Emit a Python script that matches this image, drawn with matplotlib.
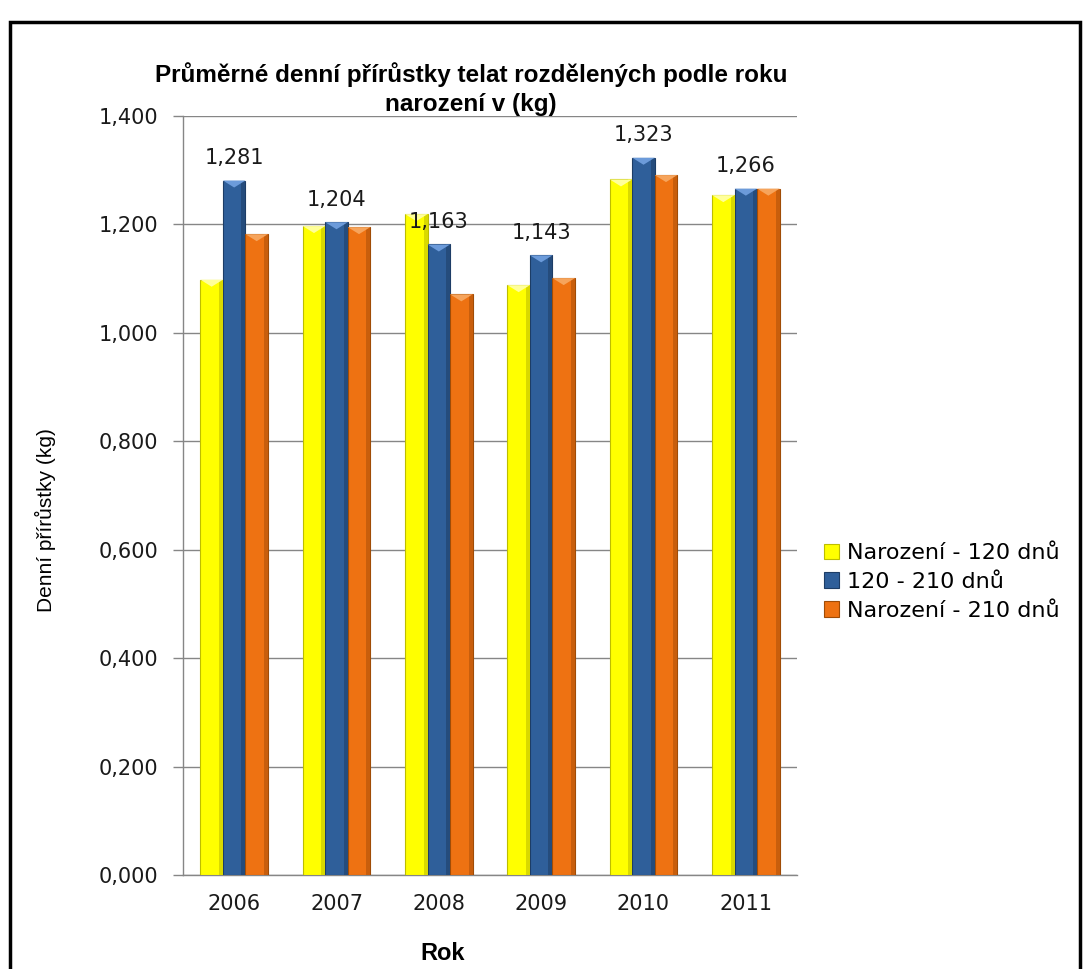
import matplotlib
matplotlib.use('Agg')
import matplotlib.pyplot as plt
import numpy as np
from matplotlib.ticker import FuncFormatter
from matplotlib.patches import Rectangle, Polygon

years = ['2006', '2007', '2008', '2009', '2010', '2011']
narozeni_120 = [1.098, 1.197, 1.219, 1.088, 1.283, 1.254]
d120_210 = [1.281, 1.204, 1.163, 1.143, 1.323, 1.266]
narozeni_210 = [1.182, 1.195, 1.071, 1.101, 1.291, 1.266]
series_names = ['Narození - 120 dnů', '120 - 210 dnů', 'Narození - 210 dnů']
yticks = [0.0, 0.2, 0.4, 0.6, 0.8, 1.0, 1.2, 1.4]

colors = ['#FFFF00', '#2F5F9A', '#EE7212']
edges = ['#BDBD00', '#1D3D66', '#A04C06']
shades = ['#D9D900', '#254C7C', '#C85E0C']
tops = ['#FFFF9A', '#6C9BDA', '#F6A45C']

W, H = 1088, 969
fig = plt.figure(figsize=(W / 100, H / 100), dpi=100)
fig.patch.set_facecolor('white')

# outer frame (cropped at bottom)
fig.add_artist(Rectangle((10 / W, -0.05), (1080 - 10) / W, 1.05 - 22 / H,
                         transform=fig.transFigure, fill=False,
                         edgecolor='black', linewidth=2.5))

ax = fig.add_axes([183 / W, 1 - 875 / H, (797 - 183) / W, (875 - 116) / H])
ax.set_xlim(-0.5, len(years) - 0.5)
ax.set_ylim(0, 1.4)
x = np.arange(len(years))
w = 0.22
# height of the bevel chevron: ~7 px in data units
px_to_data = 1.4 / (875 - 116)
chev = 7 * px_to_data
for i, vals in enumerate([narozeni_120, d120_210, narozeni_210]):
    bars = ax.bar(x + (i - 1) * w, vals, w, color=colors[i], edgecolor=edges[i],
                  linewidth=0.8, label=series_names[i], zorder=3)
    for r in bars:
        x0, bw, bh = r.get_x(), r.get_width(), r.get_height()
        ax.add_patch(Rectangle((x0 + bw * 0.82, 0), bw * 0.18, bh, facecolor=shades[i],
                               edgecolor='none', zorder=3.5))
        ax.add_patch(Polygon([(x0, bh), (x0 + bw / 2, bh - chev), (x0 + bw, bh)],
                             closed=True, facecolor=tops[i], edgecolor='none', zorder=3.6))

for xi, v in zip(x, d120_210):
    ax.annotate(f'{v:.3f}'.replace('.', ','), (xi, v), xytext=(0, 9),
                textcoords='offset points', ha='center', va='bottom',
                fontsize=15, color='#1a1a1a', zorder=5)

ax.set_yticks(yticks)
ax.yaxis.set_major_formatter(FuncFormatter(lambda v, p: f'{v:.3f}'.replace('.', ',')))
ax.set_xticks(x)
ax.set_xticklabels(years)
ax.tick_params(axis='y', labelsize=15, length=7, width=1, color='#868686', pad=11, labelcolor='#1a1a1a')
ax.tick_params(axis='x', labelsize=15, length=0, pad=14, labelcolor='#1a1a1a')
ax.grid(axis='y', color='#868686', linewidth=1, zorder=0)
for s in ['top', 'right']:
    ax.spines[s].set_visible(False)
for s in ['left', 'bottom']:
    ax.spines[s].set_color('#868686')
    ax.spines[s].set_linewidth(1)

fig.text(471 / W, 1 - 89 / H,
         'Průměrné denní přírůstky telat rozdělených podle roku\nnarození v (kg)',
         ha='center', va='center', fontsize=17.5, fontweight='bold',
         family=['Liberation Sans', 'DejaVu Sans'], linespacing=1.3)

fig.text(45 / W, 1 - 520 / H, 'Denní přírůstky (kg)', rotation=90,
         ha='center', va='center', fontsize=15,
         family=['Liberation Sans Narrow', 'Liberation Sans', 'DejaVu Sans'])

fig.text(443 / W, 1 - 953 / H, 'Rok', ha='center', va='center',
         fontsize=17, fontweight='bold', family=['Liberation Sans', 'DejaVu Sans'])

handles, labels = ax.get_legend_handles_labels()
fig.legend(handles, labels, loc='center left', bbox_to_anchor=(808 / W, 1 - 582 / H),
           frameon=False, fontsize=16, handlelength=0.7, handleheight=0.7,
           handletextpad=0.35, labelspacing=0.4, borderpad=0.2)

fig.savefig('out.png', dpi=100)
